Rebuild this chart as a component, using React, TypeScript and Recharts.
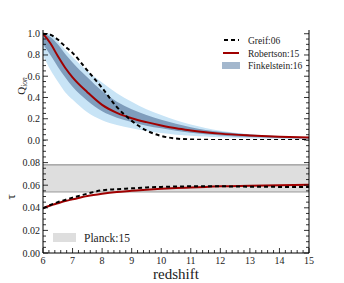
import React from 'react';
import { ComposedChart, Line, Area, XAxis, YAxis, ReferenceArea, ReferenceLine } from 'recharts';

// ---------- data ----------
const redshift = [6, 6.25, 6.5, 6.75, 7, 7.5, 8, 8.5, 9, 9.5, 10, 10.5, 11, 11.5, 12, 13, 14, 15];

const qGreif = [1.0, 0.99, 0.945, 0.88, 0.82, 0.655, 0.49, 0.31, 0.18, 0.09, 0.038, 0.014, 0.005, 0.002, 0, 0, 0, 0];
const qRobertson = [1.0, 0.91, 0.79, 0.68, 0.59, 0.45, 0.33, 0.255, 0.205, 0.168, 0.137, 0.11, 0.09, 0.073, 0.06, 0.043, 0.031, 0.023];
// Finkelstein:16 inner (1 sigma) band
const qFinkInnerLow = [0.9, 0.8, 0.69, 0.59, 0.5, 0.37, 0.27, 0.21, 0.17, 0.135, 0.11, 0.087, 0.068, 0.054, 0.043, 0.028, 0.019, 0.013];
const qFinkInnerHigh = [1.0, 0.97, 0.9, 0.81, 0.73, 0.59, 0.46, 0.36, 0.29, 0.235, 0.19, 0.152, 0.12, 0.095, 0.077, 0.051, 0.035, 0.025];
// Finkelstein:16 outer (2 sigma) band
const qFinkOuterLow = [0.8, 0.66, 0.55, 0.45, 0.38, 0.26, 0.185, 0.14, 0.11, 0.085, 0.065, 0.05, 0.04, 0.032, 0.025, 0.016, 0.011, 0.008];
const qFinkOuterHigh = [1.0, 1.0, 0.93, 0.85, 0.78, 0.65, 0.54, 0.44, 0.36, 0.29, 0.235, 0.185, 0.145, 0.112, 0.087, 0.055, 0.037, 0.026];

const tauGreif = [0.0395, 0.0425, 0.045, 0.047, 0.049, 0.0525, 0.0555, 0.0565, 0.0572, 0.058, 0.0585, 0.0588, 0.059, 0.059, 0.059, 0.0587, 0.0585, 0.0584];
const tauRobertson = [0.0395, 0.042, 0.044, 0.046, 0.0475, 0.0505, 0.0525, 0.054, 0.055, 0.056, 0.0568, 0.0575, 0.058, 0.0585, 0.059, 0.0595, 0.06, 0.0605];

const planckTau = 0.066;
const planckSigma = 0.012;

const xMajorTicks = [6, 7, 8, 9, 10, 11, 12, 13, 14, 15];
const qMajorTicks = [0, 0.2, 0.4, 0.6, 0.8, 1.0];
const tauMajorTicks = [0, 0.02, 0.04, 0.06, 0.08];

const legendLabels = ['Greif:06', 'Robertson:15', 'Finkelstein:16'];
const planckLabel = 'Planck:15';

// ---------- helpers ----------
const makeTicks = (start: number, end: number, step: number) => {
  const out: number[] = [];
  const n = Math.round((end - start) / step);
  for (let i = 0; i <= n; i++) out.push(+(start + i * step).toFixed(6));
  return out;
};
const xTicks = makeTicks(6, 15, 0.2);
const qTicks = makeTicks(0, 1.0, 0.05);
const tauTicks = makeTicks(0, 0.1, 0.005);

const isMajor = (v: number, majors: number[]) => majors.some((m) => Math.abs(m - v) < 1e-6);

const qData = redshift.map((z, i) => ({
  z,
  greif: qGreif[i],
  robertson: qRobertson[i],
  inner: [qFinkInnerLow[i], qFinkInnerHigh[i]],
  outer: [qFinkOuterLow[i], qFinkOuterHigh[i]],
}));
const tauData = redshift.map((z, i) => ({ z, greif: tauGreif[i], robertson: tauRobertson[i] }));

const FONT = "'Liberation Serif', 'Times New Roman', serif";
const AXIS = { stroke: '#000', strokeWidth: 1 };
const RED = '#a00000';
const DARK = '#7f9dbc';
const LIGHT = '#c8e4f6';

const xTick = (dir: number, showLabel: boolean) => (p: any) => {
  const v = p.payload.value;
  const major = isMajor(v, xMajorTicks);
  const len = major ? 5 : 3;
  return (
    <g>
      <line x1={p.x} x2={p.x} y1={p.y} y2={p.y + dir * len} stroke="#000" strokeWidth={0.8} />
      {showLabel && major ? (
        <text x={p.x} y={p.y + 11} textAnchor="middle" fontFamily={FONT} fontSize={10} fill="#222">
          {Math.round(v)}
        </text>
      ) : null}
    </g>
  );
};

const yTick = (dir: number, majors: number[], digits: number, showLabel: boolean) => (p: any) => {
  const v = p.payload.value;
  const major = isMajor(v, majors);
  const len = major ? 5 : 3;
  return (
    <g>
      <line x1={p.x} x2={p.x + dir * len} y1={p.y} y2={p.y} stroke="#000" strokeWidth={0.8} />
      {showLabel && major ? (
        <text x={p.x - 3} y={p.y + 3.5} textAnchor="end" fontFamily={FONT} fontSize={10} fill="#222">
          {v.toFixed(digits)}
        </text>
      ) : null}
    </g>
  );
};

const common = {
  tickLine: false,
  tickSize: 0,
  tickMargin: 0,
  interval: 0 as const,
  axisLine: AXIS,
  allowDataOverflow: true,
};

export default function App() {
  return (
    <div style={{ position: 'relative', width: 336, height: 275, fontFamily: FONT }}>
      <div style={{ position: 'absolute', left: 0, top: 132 }}>
        <ComposedChart width={336} height={143} data={tauData} margin={{ top: 0, right: 0, bottom: 0, left: 0 }}>
          <XAxis dataKey="z" type="number" domain={[6, 15]} ticks={xTicks} height={30} tick={xTick(-1, true)} {...common} />
          <XAxis xAxisId="top" orientation="top" type="number" domain={[6, 15]} ticks={xTicks} height={0} tick={xTick(1, false)} {...common} />
          <YAxis type="number" domain={[0, 0.1]} ticks={tauTicks} width={35} tick={yTick(1, tauMajorTicks, 2, true)} {...common} />
          <YAxis yAxisId="right" orientation="right" type="number" domain={[0, 0.1]} ticks={tauTicks} width={35} tick={yTick(-1, tauMajorTicks, 2, false)} {...common} />
          <ReferenceArea y1={planckTau - planckSigma} y2={planckTau + planckSigma} fill="#dedede" fillOpacity={1} stroke="none" />
          <ReferenceLine y={planckTau + planckSigma} stroke="#808080" strokeWidth={1} />
          <ReferenceLine y={planckTau - planckSigma} stroke="#9a9a9a" strokeWidth={1} />
          <Line type="monotone" dataKey="robertson" stroke={RED} strokeWidth={2} dot={false} isAnimationActive={false} />
          <Line type="monotone" dataKey="greif" stroke="#000" strokeWidth={2} strokeDasharray="4 3" dot={false} isAnimationActive={false} />
        </ComposedChart>
      </div>
      <div style={{ position: 'absolute', left: 0, top: 0 }}>
        <ComposedChart width={336} height={140} data={qData} margin={{ top: 22, right: 0, bottom: 8, left: 0 }}>
          <XAxis dataKey="z" type="number" domain={[6, 15]} ticks={xTicks} height={0} tick={xTick(-1, false)} {...common} />
          <XAxis xAxisId="top" orientation="top" type="number" domain={[6, 15]} ticks={xTicks} height={0} tick={xTick(1, false)} {...common} />
          <YAxis type="number" domain={[0, 1.035]} ticks={qTicks} width={35} tick={yTick(1, qMajorTicks, 1, true)} {...common} />
          <YAxis yAxisId="right" orientation="right" type="number" domain={[0, 1.035]} ticks={qTicks} width={35} tick={yTick(-1, qMajorTicks, 1, false)} {...common} />
          <Area type="monotone" dataKey="outer" stroke="none" fill={LIGHT} fillOpacity={1} isAnimationActive={false} />
          <Area type="monotone" dataKey="inner" stroke="none" fill={DARK} fillOpacity={1} isAnimationActive={false} />
          <Line type="monotone" dataKey="robertson" stroke={RED} strokeWidth={2} dot={false} isAnimationActive={false} />
          <Line type="monotone" dataKey="greif" stroke="#000" strokeWidth={2} strokeDasharray="4 3" dot={false} isAnimationActive={false} />
        </ComposedChart>
      </div>
      <svg
        width={344}
        height={283}
        style={{ position: 'absolute', left: -8, top: -8, pointerEvents: 'none' }}
      >
        {/* axis titles */}
        <text transform="translate(25,86) rotate(-90)" textAnchor="middle" fontFamily={FONT} fontSize={11} fill="#222">
          Q<tspan fontStyle="italic" fontSize={7.5} dy={2}>ion</tspan>
        </text>
        <text transform="translate(15,197) rotate(-90)" textAnchor="middle" fontFamily={FONT} fontSize={13} fill="#222">
          τ
        </text>
        <text x={176} y={279} textAnchor="middle" fontFamily={FONT} fontSize={15} fill="#222">
          redshift
        </text>
        {/* top legend */}
        <line x1={224} x2={239} y1={40} y2={40} stroke="#000" strokeWidth={2} strokeDasharray="4 3" />
        <text x={248} y={43.5} fontFamily={FONT} fontSize={9.5} fill="#222">{legendLabels[0]}</text>
        <line x1={223} x2={239} y1={53} y2={53} stroke={RED} strokeWidth={2} />
        <text x={248} y={56.5} fontFamily={FONT} fontSize={9.5} fill="#222">{legendLabels[1]}</text>
        <rect x={222} y={62} width={18} height={7} fill="#a3b7cd" />
        <text x={248} y={69} fontFamily={FONT} fontSize={9.5} fill="#222">{legendLabels[2]}</text>
        {/* planck legend */}
        <rect x={53} y={233} width={23} height={9} fill="#dedede" />
        <text x={84} y={241.5} fontFamily={FONT} fontSize={11.5} fill="#222">{planckLabel}</text>
      </svg>
    </div>
  );
}
